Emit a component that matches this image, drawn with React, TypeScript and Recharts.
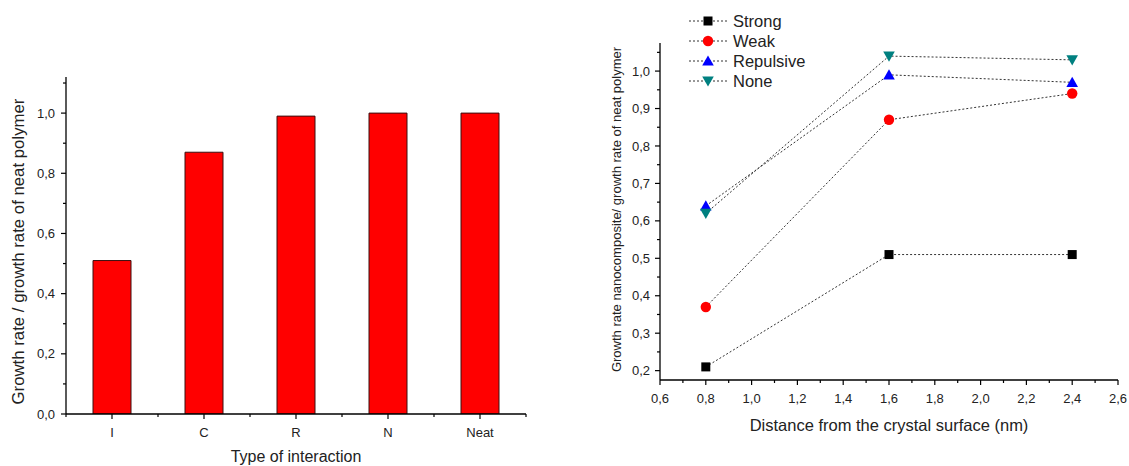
import React from 'react';
import { BarChart, Bar, XAxis, YAxis, LineChart, Line, Legend, Label } from 'recharts';

// ---------- Left chart data ----------
const interactionTypes = ['I', 'C', 'R', 'N', 'Neat'];
const growthRatios = [0.51, 0.87, 0.99, 1.0, 1.0];
const leftYTicks = [0, 0.1, 0.2, 0.3, 0.4, 0.5, 0.6, 0.7, 0.8, 0.9, 1.0, 1.1];
const leftYMajor = [0, 0.2, 0.4, 0.6, 0.8, 1.0];

// ---------- Right chart data ----------
const distances = [0.8, 1.6, 2.4];
const strongSeries = [0.21, 0.51, 0.51];
const weakSeries = [0.37, 0.87, 0.94];
const repulsiveSeries = [0.64, 0.99, 0.97];
const noneSeries = [0.62, 1.04, 1.03];
const seriesNames = ['Strong', 'Weak', 'Repulsive', 'None'];
const rightXTicks = [0.6, 0.7, 0.8, 0.9, 1.0, 1.1, 1.2, 1.3, 1.4, 1.5, 1.6, 1.7, 1.8, 1.9, 2.0, 2.1, 2.2, 2.3, 2.4, 2.5, 2.6];
const rightXMajor = [0.6, 0.8, 1.0, 1.2, 1.4, 1.6, 1.8, 2.0, 2.2, 2.4, 2.6];
const rightYTicks = [0.2, 0.25, 0.3, 0.35, 0.4, 0.45, 0.5, 0.55, 0.6, 0.65, 0.7, 0.75, 0.8, 0.85, 0.9, 0.95, 1.0, 1.05];
const rightYMajor = [0.2, 0.3, 0.4, 0.5, 0.6, 0.7, 0.8, 0.9, 1.0];

const barData = interactionTypes.map((t, i) => ({ type: t, ratio: growthRatios[i] }));
const lineData = distances.map((d, i) => ({
  distance: d,
  Strong: strongSeries[i],
  Weak: weakSeries[i],
  Repulsive: repulsiveSeries[i],
  None: noneSeries[i],
}));

const FONT = '"Liberation Sans", Arial, sans-serif';
const fmt = (v: number) => v.toFixed(1).replace('.', ',');
const isMajor = (v: number, majors: number[]) => majors.some((m) => Math.abs(m - v) < 1e-6);

const markerColors: Record<string, string> = {
  Strong: '#000000',
  Weak: '#ff0000',
  Repulsive: '#0000ff',
  None: '#008080',
};

function Marker({ name, cx, cy }: { name: string; cx: number; cy: number }) {
  const c = markerColors[name];
  if (name === 'Strong') return <rect x={cx - 4.5} y={cy - 4.5} width={9} height={9} fill={c} />;
  if (name === 'Weak') return <circle cx={cx} cy={cy} r={5.2} fill={c} />;
  if (name === 'Repulsive')
    return <polygon points={`${cx - 5.8},${cy + 4.6} ${cx + 5.8},${cy + 4.6} ${cx},${cy - 5.6}`} fill={c} />;
  return <polygon points={`${cx - 5.8},${cy - 4.6} ${cx + 5.8},${cy - 4.6} ${cx},${cy + 5.6}`} fill={c} />;
}

// ---------- Tick renderers ----------
function makeYTick(majors: number[], labelGap: number) {
  return (props: any) => {
    const { x, y, payload } = props;
    const major = isMajor(payload.value, majors);
    return (
      <g>
        <line x1={x - (major ? 5 : 3)} x2={x} y1={y} y2={y} stroke="#000" strokeWidth={1.2} />
        {major && (
          <text x={x - labelGap} y={y} dy={4.6} textAnchor="end" fontSize={13} fontFamily={FONT} fill="#222">
            {fmt(payload.value)}
          </text>
        )}
      </g>
    );
  };
}

function RightXTick(props: any) {
  const { x, y, payload } = props;
  const major = isMajor(payload.value, rightXMajor);
  return (
    <g>
      <line x1={x} x2={x} y1={y} y2={y + (major ? 5 : 3)} stroke="#000" strokeWidth={1.2} />
      {major && (
        <text x={x} y={y + 23} textAnchor="middle" fontSize={13} fontFamily={FONT} fill="#222">
          {fmt(payload.value)}
        </text>
      )}
    </g>
  );
}

function CategoryTick(props: any) {
  const { x, y, payload, index } = props;
  const half = payload && typeof payload.offset === 'number' && payload.offset > 0 ? payload.offset : 46;
  return (
    <g>
      <line x1={x} x2={x} y1={y} y2={y + 5} stroke="#000" strokeWidth={1.2} />
      <line x1={x + half} x2={x + half} y1={y} y2={y + 3} stroke="#000" strokeWidth={1.2} />
      {index === 0 && <line x1={x - half} x2={x - half} y1={y} y2={y + 3} stroke="#000" strokeWidth={1.2} />}
      <text x={x} y={y + 23} textAnchor="middle" fontSize={13} fontFamily={FONT} fill="#222">
        {payload.value}
      </text>
    </g>
  );
}

const LeftYTick = makeYTick(leftYMajor, 11);
const RightYTick = makeYTick(rightYMajor, 10);

function LegendContent() {
  return (
    <div style={{ fontFamily: FONT, fontSize: 16.5, color: '#222' }}>
      {seriesNames.map((n) => (
        <div key={n} style={{ display: 'flex', alignItems: 'center', height: 20 }}>
          <svg width={40} height={20} style={{ display: 'block' }}>
            <line x1={0} x2={40} y1={10} y2={10} stroke="#333" strokeDasharray="2 2" strokeWidth={1} />
            <Marker name={n} cx={19} cy={10} />
          </svg>
          <span style={{ marginLeft: 4, lineHeight: '20px' }}>{n}</span>
        </div>
      ))}
    </div>
  );
}

export default function App() {
  return (
    <div style={{ position: 'absolute', left: 0, top: 0, width: 1129, height: 466, background: '#fff', fontFamily: FONT }}>
      <div style={{ position: 'absolute', left: 0, top: 0 }}>
        <BarChart width={560} height={466} data={barData} margin={{ top: 77, right: 34, bottom: 22, left: 0 }}>
          <XAxis
            dataKey="type"
            height={30}
            tickLine={false}
            tickSize={0}
            tickMargin={0}
            interval={0}
            axisLine={{ stroke: '#000', strokeWidth: 1.3 }}
            tick={<CategoryTick />}
          >
            <Label
              content={(p: any) => {
                const vb = p.viewBox || { x: 66, y: 414, width: 460 };
                return (
                  <text x={vb.x + vb.width / 2} y={vb.y + 48} textAnchor="middle" fontSize={16} fontFamily={FONT} fill="#222">
                    Type of interaction
                  </text>
                );
              }}
            />
          </XAxis>
          <YAxis
            width={66}
            type="number"
            domain={[0, 1.12]}
            ticks={leftYTicks}
            interval={0}
            allowDataOverflow
            tickLine={false}
            tickSize={0}
            tickMargin={0}
            axisLine={{ stroke: '#000', strokeWidth: 1.3 }}
            tick={<LeftYTick />}
          >
            <Label
              content={(p: any) => {
                const vb = p.viewBox || { x: 0, y: 77, height: 337 };
                const cx = 24;
                const cy = vb.y + vb.height / 2 + 6;
                return (
                  <text
                    x={cx}
                    y={cy}
                    transform={`rotate(-90 ${cx} ${cy})`}
                    textAnchor="middle"
                    fontSize={16.8}
                    fontFamily={FONT}
                    fill="#222"
                  >
                    Growth rate / growth rate of neat polymer
                  </text>
                );
              }}
            />
          </YAxis>
          <Bar dataKey="ratio" fill="#ff0000" stroke="#3a1010" strokeWidth={1} barSize={38} isAnimationActive={false} />
        </BarChart>
      </div>

      <div style={{ position: 'absolute', left: 560, top: 0 }}>
        <LineChart width={569} height={466} data={lineData} margin={{ top: 43, right: 11, bottom: 56, left: 0 }}>
          <XAxis
            dataKey="distance"
            type="number"
            domain={[0.6, 2.6]}
            ticks={rightXTicks}
            interval={0}
            allowDataOverflow
            height={30}
            tickLine={false}
            tickSize={0}
            tickMargin={0}
            axisLine={{ stroke: '#000', strokeWidth: 1.3 }}
            tick={<RightXTick />}
          >
            <Label
              content={(p: any) => {
                const vb = p.viewBox || { x: 100, y: 380, width: 458 };
                return (
                  <text x={vb.x + vb.width / 2} y={vb.y + 51} textAnchor="middle" fontSize={16.5} fontFamily={FONT} fill="#222">
                    Distance from the crystal surface (nm)
                  </text>
                );
              }}
            />
          </XAxis>
          <YAxis
            width={100}
            type="number"
            domain={[0.175, 1.075]}
            ticks={rightYTicks}
            interval={0}
            allowDataOverflow
            tickLine={false}
            tickSize={0}
            tickMargin={0}
            axisLine={{ stroke: '#000', strokeWidth: 1.3 }}
            tick={<RightYTick />}
          >
            <Label
              content={(p: any) => {
                const vb = p.viewBox || { x: 0, y: 43, height: 337 };
                const cx = 61;
                const cy = vb.y + vb.height / 2 - 2;
                return (
                  <text
                    x={cx}
                    y={cy}
                    transform={`rotate(-90 ${cx} ${cy})`}
                    textAnchor="middle"
                    fontSize={13}
                    fontFamily={FONT}
                    fill="#222"
                  >
                    Growth rate nanocomposite/ growth rate of neat polymer
                  </text>
                );
              }}
            />
          </YAxis>
          <Legend
            layout="vertical"
            align="center"
            verticalAlign="middle"
            content={() => <LegendContent />}
            wrapperStyle={{ left: 129, top: 11, width: 140, height: 80 }}
          />
          {seriesNames.map((n) => (
            <Line
              key={n}
              type="linear"
              dataKey={n}
              name={n}
              stroke="#333"
              strokeWidth={1}
              strokeDasharray="2 2"
              isAnimationActive={false}
              dot={(p: any) => <Marker key={`${n}-${p.index}`} name={n} cx={p.cx} cy={p.cy} />}
              activeDot={false}
            />
          ))}
        </LineChart>
      </div>
    </div>
  );
}
